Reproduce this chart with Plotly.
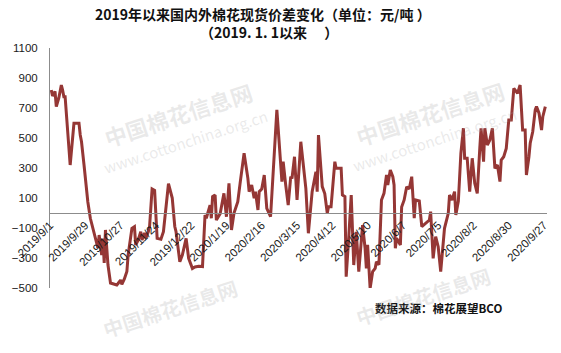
import plotly.graph_objects as go

dates = [
    "2019-09-02", "2019-09-03", "2019-09-05", "2019-09-06", "2019-09-08", "2019-09-10", "2019-09-11",
    "2019-09-12", "2019-09-13", "2019-09-17", "2019-09-20", "2019-09-24", "2019-09-25", "2019-09-26",
    "2019-09-28", "2019-10-01", "2019-10-03", "2019-10-07", "2019-10-09", "2019-10-10", "2019-10-12",
    "2019-10-13", "2019-10-14", "2019-10-15", "2019-10-17", "2019-10-19", "2019-10-24", "2019-10-25",
    "2019-10-27", "2019-10-28", "2019-10-30", "2019-11-01", "2019-11-02", "2019-11-05", "2019-11-07",
    "2019-11-08", "2019-11-10", "2019-11-12", "2019-11-13", "2019-11-15", "2019-11-16", "2019-11-18",
    "2019-11-19", "2019-11-21", "2019-11-23", "2019-11-25", "2019-11-28", "2019-11-30", "2019-12-02",
    "2019-12-04", "2019-12-07", "2019-12-09", "2019-12-10", "2019-12-13", "2019-12-15", "2019-12-18",
    "2019-12-19", "2019-12-20", "2019-12-23", "2019-12-25", "2019-12-28", "2019-12-31", "2020-01-02",
    "2020-01-03", "2020-01-06", "2020-01-07", "2020-01-08", "2020-01-10", "2020-01-11", "2020-01-14",
    "2020-01-17", "2020-01-19", "2020-01-21", "2020-01-23", "2020-01-25", "2020-01-28", "2020-01-30",
    "2020-02-02", "2020-02-05", "2020-02-06", "2020-02-08", "2020-02-10", "2020-02-11", "2020-02-13",
    "2020-02-14", "2020-02-16", "2020-02-18", "2020-02-20", "2020-02-23", "2020-02-28", "2020-03-03",
    "2020-03-04", "2020-03-06", "2020-03-08", "2020-03-10", "2020-03-11", "2020-03-13", "2020-03-15",
    "2020-03-18", "2020-03-21", "2020-03-22", "2020-03-24", "2020-03-27", "2020-03-30", "2020-03-31",
    "2020-04-01", "2020-04-04", "2020-04-06", "2020-04-08", "2020-04-09", "2020-04-11", "2020-04-14",
    "2020-04-15", "2020-04-19", "2020-04-20", "2020-04-22", "2020-04-23", "2020-04-25", "2020-04-27",
    "2020-04-29", "2020-05-01", "2020-05-03", "2020-05-06", "2020-05-08", "2020-05-09", "2020-05-10",
    "2020-05-12", "2020-05-14", "2020-05-16", "2020-05-17", "2020-05-19", "2020-05-21", "2020-05-23",
    "2020-05-25", "2020-05-26", "2020-05-28", "2020-05-30", "2020-05-31", "2020-06-01", "2020-06-02",
    "2020-06-05", "2020-06-06", "2020-06-08", "2020-06-10", "2020-06-12", "2020-06-14", "2020-06-16",
    "2020-06-17", "2020-06-20", "2020-06-22", "2020-06-25", "2020-06-28", "2020-06-29", "2020-07-01",
    "2020-07-03", "2020-07-05", "2020-07-07", "2020-07-10", "2020-07-13", "2020-07-14", "2020-07-16",
    "2020-07-18", "2020-07-19", "2020-07-21", "2020-07-23", "2020-07-25", "2020-07-26", "2020-07-28",
    "2020-07-30", "2020-08-01", "2020-08-03", "2020-08-05", "2020-08-07", "2020-08-08", "2020-08-10",
    "2020-08-11", "2020-08-13", "2020-08-15", "2020-08-17", "2020-08-19", "2020-08-21", "2020-08-23",
    "2020-08-24", "2020-08-26", "2020-08-28", "2020-08-30", "2020-09-01", "2020-09-03", "2020-09-04",
    "2020-09-06", "2020-09-08", "2020-09-10", "2020-09-12", "2020-09-13", "2020-09-15", "2020-09-16",
    "2020-09-18", "2020-09-20", "2020-09-21", "2020-09-23", "2020-09-25", "2020-09-26", "2020-09-28",
]

spread = [
    820, 780, 810, 710, 767, 853, 820,
    775, 775, 320, 598, 598, 520, 475,
    320, 75, -35, -167, -233, -147, -280,
    -170, -333, -113, -347, -467, -480, -470,
    -447, -475, -440, -390, -280, -102, -91,
    -213, -180, -125, -180, -133, -167, -125,
    -91, 160, 150, -169, -175, -125, 31,
    195, 100, -90, -125, -325, -280, -169,
    -235, -302, -370, -360, -355, -357, -13,
    -35, 53, -35, 109, 120, -47, -5,
    131, -25, 198, -113, 0, 75, 209,
    398, 231, 142, 187, 98, 142, 20,
    142, 160, 253, 31, -25, 687, 209,
    342, 187, 53, 242, 230, 375, 87,
    475, 253, 164, -135, 142, 275, 142,
    520, 176, 130, -2, 42, 42, 342,
    298, 298, 120, 109, -425, -169, 120,
    -347, -125, -391, -80, -235, -369, -213,
    -502, -391, -369, -325, -345, 87, 131,
    253, 187, 287, 242, 187, -235, -169,
    -213, 40, 87, 175, 160, 242, -35,
    87, 80, -91, -69, -47, 9, -302,
    -158, -225, -391, -102, -2, 120, 87,
    142, -13, 80, 398, 565, 365, 365,
    142, 365, 198, 131, 431, 565, 342,
    565, 453, 487, 565, 298, 320, 209,
    353, 375, 431, 620, 620, 831, 820,
    798, 853, 553, 553, 253, 375, 465,
    542, 687, 709, 665, 553, 642, 709,
]

tick_dates = [
    "2019-09-01", "2019-09-29", "2019-10-27", "2019-11-24", "2019-12-22", "2020-01-19", "2020-02-16",
    "2020-03-15", "2020-04-12", "2020-05-10", "2020-06-07", "2020-07-05", "2020-08-02", "2020-08-30",
    "2020-09-27",
]
tick_labels = [
    "2019/9/1", "2019/9/29", "2019/10/27", "2019/11/24", "2019/12/22", "2020/1/19", "2020/2/16",
    "2020/3/15", "2020/4/12", "2020/5/10", "2020/6/7", "2020/7/5", "2020/8/2", "2020/8/30",
    "2020/9/27",
]
y_ticks = [-500, -300, -100, 100, 300, 500, 700, 900, 1100]

title_line1 = "2019年以来国内外棉花现货价差变化（单位：元/吨 ）"
title_line2 = "（2019. 1. 1以来　 ）"
source_text = "数据来源：棉花展望BCO"

Y_MIN, Y_MAX = -500, 1100

fig = go.Figure()
fig.add_trace(go.Scatter(
    x=dates, y=spread, mode="lines",
    line=dict(color="#953735", width=3),
    showlegend=False, hoverinfo="skip",
))

axis_font = dict(family="Liberation Sans, Arial, sans-serif", size=11.5, color="#1a1a1a")
zero_pos = (0 - Y_MIN) / (Y_MAX - Y_MIN)

fig.update_layout(
    width=561, height=353,
    margin=dict(l=37, r=13, t=48, b=65),
    paper_bgcolor="white", plot_bgcolor="white",
    xaxis=dict(
        type="date",
        range=["2019-09-01", "2020-09-29 08:00"],
        tickmode="array", tickvals=tick_dates, ticktext=tick_labels,
        tickangle=-45, tickfont=axis_font,
        showgrid=False, zeroline=False,
        showline=True, linecolor="#8c8c8c", linewidth=1,
        ticks="", anchor="free", position=zero_pos,
    ),
    yaxis=dict(
        range=[Y_MIN, Y_MAX],
        tickmode="array", tickvals=y_ticks,
        tickfont=axis_font,
        showgrid=False, zeroline=False,
        showline=True, linecolor="#8c8c8c", linewidth=1,
        ticks="", ticklabelstandoff=9,
    ),
)

PW = 561 - 37 - 13
PH = 353 - 48 - 65

def px_to_paper(px, py):
    return (px - 37) / PW, (353 - 65 - py) / PH

# title
tx, ty = px_to_paper(256, 14)
fig.add_annotation(text="<b>" + title_line1 + "</b>", xref="paper", yref="paper",
                   x=tx, y=ty, xanchor="center", yanchor="middle", showarrow=False,
                   font=dict(family="Noto Sans CJK SC", size=14, color="#111111"))
tx, ty = px_to_paper(262, 32)
fig.add_annotation(text="<b>" + title_line2 + "</b>", xref="paper", yref="paper",
                   x=tx, y=ty, xanchor="center", yanchor="middle", showarrow=False,
                   font=dict(family="Noto Sans CJK SC", size=14, color="#111111"))
# source
sx, sy = px_to_paper(369, 308)
fig.add_annotation(text="<b>" + source_text + "</b>", xref="paper", yref="paper",
                   x=sx, y=sy, xanchor="left", yanchor="middle", showarrow=False,
                   font=dict(family="Noto Sans CJK SC", size=11.5, color="#111111"))

# faint watermarks
wm_color = "rgba(170,170,170,0.25)"
for (px, py, size, txt) in [
    (169, 114, 22, "<b>中国棉花信息网</b>"), (176, 141, 15, "www.cottonchina.org.cn"),
    (428, 113, 22, "<b>中国棉花信息网</b>"), (432, 139, 15, "www.cottonchina.org.cn"),
    (160, 308, 20, "<b>中国棉花信息网</b>"), (420, 296, 20, "<b>中国棉花信息网</b>"),
]:
    wx, wy = px_to_paper(px, py)
    fig.add_annotation(text=txt, xref="paper", yref="paper",
                       x=wx, y=wy, xanchor="center", yanchor="middle", showarrow=False, textangle=-18,
                       font=dict(family="Noto Sans CJK SC", size=size, color=wm_color))

fig.write_html("out.html")
